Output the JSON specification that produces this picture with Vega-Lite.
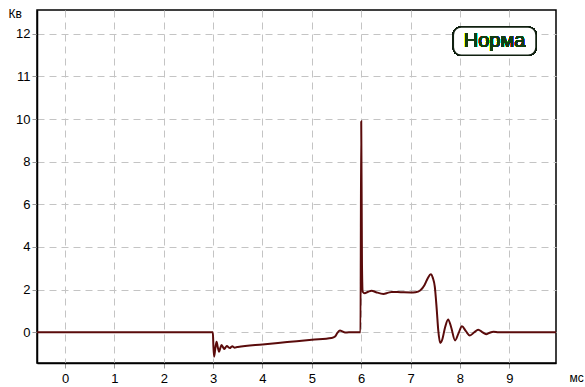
{
  "$schema": "https://vega.github.io/schema/vega-lite/v6.json",
  "width": 519,
  "height": 353,
  "autosize": "none",
  "padding": {"left": 37, "top": 10, "right": 29, "bottom": 24},
  "background": "white",
  "config": {"view": {"stroke": "black", "strokeWidth": 1.5}, "font": "Liberation Sans"},
  "data": {"values": [
    {"t": -0.567, "k": 0},
    {"t": 2.995, "k": 0},
    {"t": 3.005, "k": -0.6},
    {"t": 3.02, "k": -1.15},
    {"t": 3.045, "k": -0.75},
    {"t": 3.07, "k": -0.44},
    {"t": 3.095, "k": -0.7},
    {"t": 3.12, "k": -0.91},
    {"t": 3.145, "k": -0.74},
    {"t": 3.17, "k": -0.6},
    {"t": 3.2, "k": -0.7},
    {"t": 3.23, "k": -0.78},
    {"t": 3.255, "k": -0.7},
    {"t": 3.28, "k": -0.64},
    {"t": 3.31, "k": -0.7},
    {"t": 3.34, "k": -0.74},
    {"t": 3.365, "k": -0.69},
    {"t": 3.39, "k": -0.66},
    {"t": 3.415, "k": -0.7},
    {"t": 3.44, "k": -0.72},
    {"t": 3.47, "k": -0.7},
    {"t": 3.5, "k": -0.69},
    {"t": 4.0, "k": -0.57},
    {"t": 4.5, "k": -0.46},
    {"t": 5.0, "k": -0.35},
    {"t": 5.4, "k": -0.27},
    {"t": 5.47, "k": -0.2},
    {"t": 5.52, "k": -0.02},
    {"t": 5.57, "k": 0.08},
    {"t": 5.62, "k": 0.04},
    {"t": 5.67, "k": -0.01},
    {"t": 5.75, "k": 0.0},
    {"t": 5.985, "k": 0.0},
    {"t": 6.0, "k": 9.9},
    {"t": 6.015, "k": 3.2},
    {"t": 6.03, "k": 1.9},
    {"t": 6.07, "k": 1.83},
    {"t": 6.14, "k": 1.9},
    {"t": 6.21, "k": 1.95},
    {"t": 6.3, "k": 1.88},
    {"t": 6.45, "k": 1.8},
    {"t": 6.55, "k": 1.86},
    {"t": 6.62, "k": 1.89},
    {"t": 6.8, "k": 1.88},
    {"t": 7.0, "k": 1.87},
    {"t": 7.1, "k": 1.88},
    {"t": 7.2, "k": 1.97},
    {"t": 7.28, "k": 2.2},
    {"t": 7.35, "k": 2.55},
    {"t": 7.41, "k": 2.72},
    {"t": 7.45, "k": 2.55},
    {"t": 7.49, "k": 2.14},
    {"t": 7.53, "k": 1.05},
    {"t": 7.56, "k": 0.1},
    {"t": 7.6, "k": -0.5},
    {"t": 7.64, "k": -0.35},
    {"t": 7.7, "k": 0.25},
    {"t": 7.76, "k": 0.6},
    {"t": 7.82, "k": 0.25},
    {"t": 7.9, "k": -0.38},
    {"t": 7.97, "k": -0.05},
    {"t": 8.04, "k": 0.28},
    {"t": 8.12, "k": 0.05},
    {"t": 8.2, "k": -0.15},
    {"t": 8.29, "k": 0.0},
    {"t": 8.37, "k": 0.12},
    {"t": 8.45, "k": 0.01},
    {"t": 8.53, "k": -0.09},
    {"t": 8.6, "k": -0.02},
    {"t": 8.68, "k": 0.03},
    {"t": 8.78, "k": 0.0},
    {"t": 9.945, "k": 0}
  ]},
  "layer": [
    {
      "mark": {"type": "line", "interpolate": "monotone", "color": "#5a0b0b", "strokeWidth": 2},
      "encoding": {
        "x": {
          "field": "t", "type": "quantitative",
          "scale": {"domain": [-0.567, 9.945], "nice": false, "zero": false},
          "axis": {
            "values": [0, 1, 2, 3, 4, 5, 6, 7, 8, 9],
            "grid": true, "gridDash": [7, 5], "gridColor": "#c4c4c4", "gridWidth": 1,
            "domainColor": "black", "domainWidth": 1.5,
            "tickSize": 5, "tickColor": "#999999",
            "labelFontSize": 13, "labelColor": "black", "labelPadding": 4, "labelFlush": false,
            "title": "мс", "titleX": 532, "titleY": 18, "titleAlign": "left", "titleBaseline": "alphabetic",
            "titleFontWeight": "normal", "titleFontSize": 12, "titleColor": "black"
          }
        },
        "y": {
          "field": "k", "type": "quantitative",
          "scale": {"domain": [-1.44, 10, 12.55], "range": [353, 109, 0], "nice": false, "zero": false},
          "axis": {
            "values": [0, 2, 4, 6, 8, 10, 11, 12],
            "grid": true, "gridDash": [7, 5], "gridColor": "#c4c4c4", "gridWidth": 1,
            "domainColor": "black", "domainWidth": 1.5,
            "tickSize": 5, "tickColor": "#999999",
            "labelFontSize": 13, "labelColor": "black", "labelPadding": 2,
            "title": "Кв", "titleAngle": 0, "titleX": -29, "titleY": 7, "titleAlign": "left", "titleBaseline": "alphabetic",
            "titleFontWeight": "normal", "titleFontSize": 12, "titleColor": "black"
          }
        }
      }
    },
    {
      "mark": {"type": "rect", "cornerRadius": 8, "fill": "white", "stroke": "#102010", "strokeWidth": 1.5},
      "encoding": {
        "x": {"datum": 7.865, "type": "quantitative"},
        "x2": {"datum": 9.54},
        "y": {"datum": 12.155, "type": "quantitative"},
        "y2": {"datum": 11.49}
      }
    },
    {
      "mark": {"type": "text", "text": "Норма", "font": "Liberation Sans", "fontSize": 20, "fontWeight": "normal", "color": "#123d12", "baseline": "middle", "align": "center"},
      "encoding": {
        "x": {"datum": 8.7, "type": "quantitative"},
        "y": {"datum": 11.82, "type": "quantitative"}
      }
    }
  ]
}
